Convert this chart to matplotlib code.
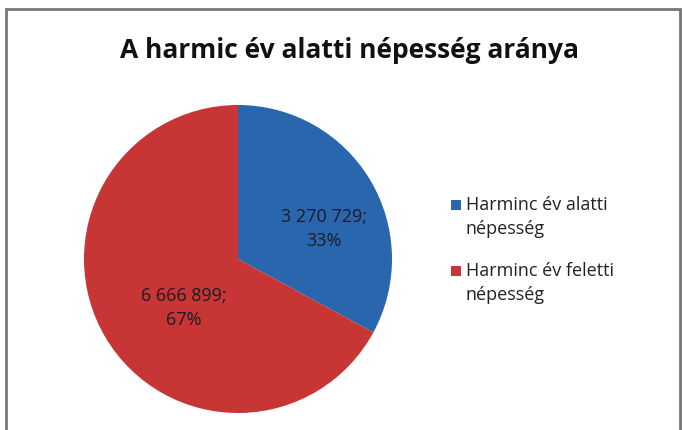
import matplotlib.pyplot as plt
from matplotlib.patches import Rectangle

# Data
labels = ['Harminc év alatti\nnépesség', 'Harminc év feletti\nnépesség']
values = [3270729, 6666899]
colors = ['#2A66AE', '#C73535']
title = 'A harmic év alatti népesség aránya'

plt.rcParams['font.family'] = ['Open Sans', 'DejaVu Sans']

W, H = 682, 431
fig = plt.figure(figsize=(W / 100, H / 100), dpi=100)

# grey chart frame
fig.patches.append(Rectangle((5.5 / W, -0.05), 674.5 / W, (H - 9.5) / H + 0.05,
                             transform=fig.transFigure, fill=False,
                             edgecolor='#777777', lw=2))

cx, cy, r = 238, 260, 154
ax = fig.add_axes([(cx - r) / W, (H - cy - r) / H, 2 * r / W, 2 * r / H])
total = sum(values)


def fmt(pct):
    v = int(round(pct * total / 100))
    return '{:,}'.format(v).replace(',', ' ') + ';\n' + '{:.0f}%'.format(pct)


wedges, texts, autotexts = ax.pie(values, colors=colors, startangle=90, counterclock=False,
                                  autopct=fmt,
                                  textprops=dict(fontsize=13, color='#1c1c28'))
# data label spots as placed in the original
label_pos = [(0.56, 0.20), (-0.35, -0.31)]
for t, p in zip(autotexts, label_pos):
    t.set_position(p)
    t.set_linespacing(1.45)
    t.set_multialignment('center')
ax.set_xlim(-1, 1)
ax.set_ylim(-1, 1)

fig.text(349 / W, (H - 50) / H, title, ha='center', va='center',
         fontsize=19, fontweight='bold', color='#111111')

# legend: square marker aligned with the first text line
lx, ly, row = 451, 206, 66
for i, (w, lab) in enumerate(zip(wedges, labels)):
    y = ly + i * row
    fig.patches.append(Rectangle((lx / W, (H - y - 5) / H), 10 / W, 10 / H,
                                 transform=fig.transFigure,
                                 facecolor=w.get_facecolor(), edgecolor='none'))
    fig.text((lx + 15) / W, (H - y + 10) / H, lab, ha='left', va='top',
             fontsize=13, color='#222222', linespacing=1.45)

fig.savefig('out.png', dpi=100)
